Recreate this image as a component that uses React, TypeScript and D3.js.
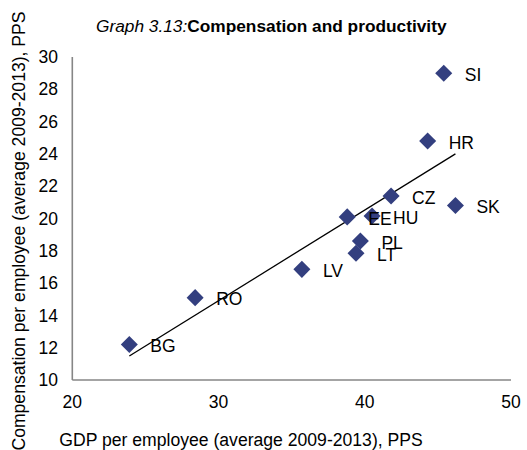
import React, { useEffect, useRef } from 'react';
import * as d3 from 'd3';

// country codes, GDP per employee and compensation per employee (avg 2009-2013, PPS)
const countries = ['BG', 'RO', 'LV', 'EE', 'LT', 'PL', 'HU', 'CZ', 'HR', 'SI', 'SK'];
const gdpPerEmployee = [23.9, 28.4, 35.7, 38.8, 39.4, 39.7, 40.5, 41.8, 44.3, 45.4, 46.2];
const compPerEmployee = [12.2, 15.1, 16.85, 20.1, 17.85, 18.6, 20.15, 21.4, 24.8, 29.0, 20.8];
const xTicks = [20, 30, 40, 50];
const yTicks = [10, 12, 14, 16, 18, 20, 22, 24, 26, 28, 30];

const W = 527;
const H = 450;
const FONT = '"Liberation Sans", Arial, sans-serif';

const App: React.FC = () => {
    const ref = useRef<SVGSVGElement>(null);

    useEffect(() => {
        if (!ref.current) return;
        const svg = d3.select(ref.current);
        svg.selectAll('*').remove();

        const x = d3.scaleLinear().domain([20, 50]).range([72.3, 511]);
        const y = d3.scaleLinear().domain([10, 30]).range([380, 57]);

        const pts = countries.map((c, i) => ({ c, gx: gdpPerEmployee[i], cy: compPerEmployee[i] }));

        // title
        const title = svg.append('text')
            .attr('x', 96)
            .attr('y', 32)
            .attr('font-family', FONT)
            .attr('font-size', 17.3)
            .attr('fill', '#000');
        title.append('tspan').attr('font-style', 'italic').text('Graph 3.13:');
        title.append('tspan').attr('font-weight', 'bold').text('Compensation and productivity');

        // axes lines (no tick marks)
        svg.append('line')
            .attr('x1', x(20)).attr('x2', x(20))
            .attr('y1', y(30)).attr('y2', y(10))
            .attr('stroke', '#868686').attr('stroke-width', 1.6);
        svg.append('line')
            .attr('x1', x(20)).attr('x2', x(50))
            .attr('y1', y(10)).attr('y2', y(10))
            .attr('stroke', '#868686').attr('stroke-width', 1.6);

        svg.append('g').selectAll('text')
            .data(yTicks)
            .enter().append('text')
            .attr('x', 58)
            .attr('y', d => y(d))
            .attr('dy', '0.35em')
            .attr('text-anchor', 'end')
            .attr('font-family', FONT)
            .attr('font-size', 17.5)
            .text(d => d);

        svg.append('g').selectAll('text')
            .data(xTicks)
            .enter().append('text')
            .attr('x', d => x(d))
            .attr('y', 402)
            .attr('dy', '0.35em')
            .attr('text-anchor', 'middle')
            .attr('font-family', FONT)
            .attr('font-size', 17.5)
            .text(d => d);

        // axis titles
        svg.append('text')
            .attr('x', 241)
            .attr('y', 446)
            .attr('text-anchor', 'middle')
            .attr('font-family', FONT)
            .attr('font-size', 17.6)
            .text('GDP per employee (average 2009-2013), PPS');

        svg.append('text')
            .attr('transform', `translate(25,231) rotate(-90)`)
            .attr('text-anchor', 'middle')
            .attr('font-family', FONT)
            .attr('font-size', 17.6)
            .text('Compensation per employee (average 2009-2013), PPS');

        // linear trendline (least squares)
        const mx = d3.mean(gdpPerEmployee) as number;
        const my = d3.mean(compPerEmployee) as number;
        const sxy = d3.sum(gdpPerEmployee, (v, i) => (v - mx) * (compPerEmployee[i] - my));
        const sxx = d3.sum(gdpPerEmployee, v => (v - mx) * (v - mx));
        const slope = sxy / sxx;
        const icpt = my - slope * mx;
        const [x0, x1] = d3.extent(gdpPerEmployee) as [number, number];
        svg.append('line')
            .attr('x1', x(x0)).attr('y1', y(icpt + slope * x0))
            .attr('x2', x(x1)).attr('y2', y(icpt + slope * x1))
            .attr('stroke', '#000').attr('stroke-width', 1.3);

        // markers
        const diamond = d3.symbol().type(d3.symbolSquare).size(145);
        svg.append('g').selectAll('path')
            .data(pts)
            .enter().append('path')
            .attr('d', diamond)
            .attr('transform', d => `translate(${x(d.gx)},${y(d.cy)}) rotate(45)`)
            .attr('fill', '#333f7f');

        // labels
        svg.append('g').selectAll('text')
            .data(pts)
            .enter().append('text')
            .attr('x', d => x(d.gx) + 21)
            .attr('y', d => y(d.cy) + 1.5)
            .attr('dy', '0.35em')
            .attr('font-family', FONT)
            .attr('font-size', 17.5)
            .text(d => d.c);
    }, []);

    return <svg ref={ref} width={W} height={H} style={{ position: 'absolute', left: 0, top: 0 }}></svg>;
};

export default App;
